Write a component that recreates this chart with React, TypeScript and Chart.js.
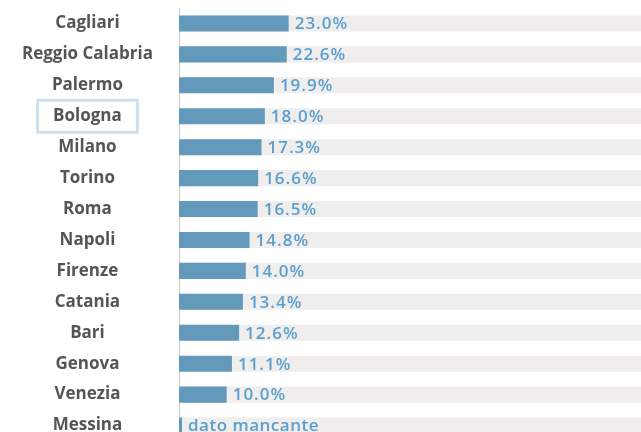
import React, { useEffect, useRef } from "react";
import { Chart, registerables } from "chart.js";

Chart.register(...registerables);

const cities: string[] = [
  "Cagliari",
  "Reggio Calabria",
  "Palermo",
  "Bologna",
  "Milano",
  "Torino",
  "Roma",
  "Napoli",
  "Firenze",
  "Catania",
  "Bari",
  "Genova",
  "Venezia",
  "Messina",
];

const values: (number | null)[] = [
  23.0, 22.6, 19.9, 18.0, 17.3, 16.6, 16.5, 14.8, 14.0, 13.4, 12.6, 11.1, 10.0, null,
];

const TRACK_VALUE = 100;
const X_MAX = 96.9;
const highlightedCity = "Bologna";
const missingLabel = "dato mancante";

const FONT_FAMILY = '"Open Sans", "DejaVu Sans", sans-serif';
const LABEL_FONT = { family: FONT_FAMILY, size: 17, weight: "bold" as const };
const LABEL_PADDING = 26;

export default function App() {
  const canvasRef = useRef<HTMLCanvasElement | null>(null);

  useEffect(() => {
    document.body.style.margin = "0";
    document.body.style.overflow = "hidden";
    const canvas = canvasRef.current;
    if (!canvas) return;

    const valuePlugin = {
      id: "valueLabels",
      afterDatasetsDraw(chart: any) {
        const ctx = chart.ctx;
        const meta = chart.getDatasetMeta(0);
        ctx.save();
        ctx.font = `600 17px ${FONT_FAMILY}`;
        ctx.fillStyle = "#5a9fcf";
        ctx.textAlign = "left";
        ctx.textBaseline = "middle";
        meta.data.forEach((bar: any, i: number) => {
          const v = values[i];
          const missing = v == null;
          const text = missing ? missingLabel : (v as number).toFixed(1) + "%";
          (ctx as any).letterSpacing = missing ? "0.5px" : "1px";
          const x = missing ? chart.chartArea.left + 9 : bar.x + 6;
          ctx.fillText(text, x, bar.y + 1);
        });
        ctx.restore();
      },
      afterDraw(chart: any) {
        const ctx = chart.ctx;
        const yScale = chart.scales.y;
        const idx = cities.indexOf(highlightedCity);
        if (idx < 0) return;
        ctx.save();
        ctx.font = `bold 17px ${FONT_FAMILY}`;
        let widest = 0;
        cities.forEach((c) => {
          widest = Math.max(widest, ctx.measureText(c).width);
        });
        const w = ctx.measureText(highlightedCity).width;
        const cx = yScale.right - LABEL_PADDING - widest / 2;
        const cy = yScale.getPixelForValue(idx);
        const bw = w + 31;
        const bh = 32;
        ctx.strokeStyle = "#cde0ef";
        ctx.lineWidth = 3;
        ctx.strokeRect(cx - bw / 2, cy - bh / 2, bw, bh);
        ctx.restore();
      },
    };

    const chart = new Chart(canvas, {
      type: "bar",
      data: {
        labels: cities,
        datasets: [
          {
            label: "Valore",
            data: values.map((v) => (v == null ? 0 : v)),
            backgroundColor: "#6399ba",
            grouped: false,
            order: 1,
            barPercentage: 0.52,
            categoryPercentage: 1,
            minBarLength: 3,
          },
          {
            label: "Sfondo",
            data: cities.map(() => TRACK_VALUE),
            backgroundColor: "#efeeed",
            grouped: false,
            order: 2,
            barPercentage: 0.52,
            categoryPercentage: 1,
          },
        ],
      },
      options: {
        indexAxis: "y",
        animation: false,
        responsive: false,
        maintainAspectRatio: false,
        layout: { padding: { left: 0, right: 0, top: 8, bottom: 1 } },
        plugins: {
          legend: { display: false },
          tooltip: { enabled: false },
        },
        scales: {
          x: {
            display: false,
            min: 0,
            max: X_MAX,
          },
          y: {
            position: "left",
            grid: { display: false, drawTicks: false },
            border: { display: true, dash: [1, 3], color: "#cccccc", width: 1 },
            ticks: {
              crossAlign: "center",
              padding: LABEL_PADDING,
              color: "#555555",
              font: LABEL_FONT,
            },
            afterFit(scale: any) {
              scale.width = 179;
              scale.paddingTop = 0;
              scale.paddingBottom = 0;
            },
          },
        },
      },
      plugins: [valuePlugin],
    });

    return () => chart.destroy();
  }, []);

  return (
    <div style={{ position: "fixed", left: 0, top: 0, width: 641, height: 442 }}>
      <canvas ref={canvasRef} width={641} height={442} />
    </div>
  );
}
